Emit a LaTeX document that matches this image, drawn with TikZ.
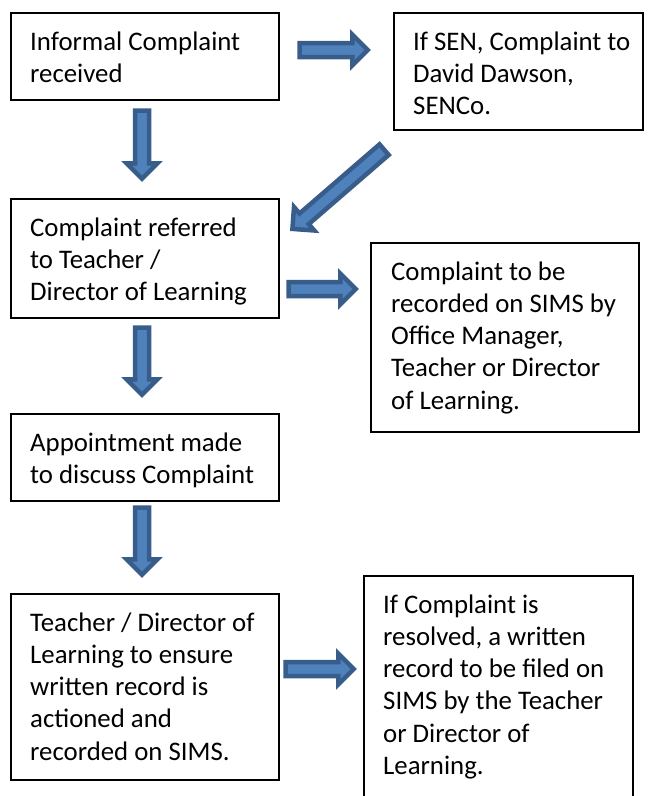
\documentclass[tikz,border=0pt]{standalone}
\usepackage{fontspec}
\setmainfont{Carlito}
\usetikzlibrary{calc}

\definecolor{arrowfill}{HTML}{4F81BD}
\definecolor{arrowline}{HTML}{385D8A}

\tikzset{
  box/.style={draw=black, line width=2pt, rectangle, inner sep=0pt, anchor=north west},
  txt/.style={anchor=north west, inner sep=0pt, align=left,
    font=\fontsize{26.8}{32.25}\selectfont},
  arrowbody/.style={draw=arrowline, fill=arrowfill, line width=4.5pt, line join=miter},
}

% block arrow from coordinate #1 (tail) to coordinate #2 (tip)
\newcommand\blockarrow[2]{%
  \coordinate (ba-t) at ($(#1)!2.5pt!(#2)$);
  \coordinate (ba-p) at ($(#2)!3.2pt!(#1)$);
  \coordinate (ba-h) at ($(ba-p)!15.5pt!(#1)$);
  \draw[arrowbody]
    ($(ba-t)!7pt!90:(#2)$) -- ($(ba-h)!7pt!90:(ba-p)$) --
    ($(ba-h)!15.5pt!90:(ba-p)$) -- (ba-p) --
    ($(ba-h)!15.5pt!-90:(ba-p)$) -- ($(ba-h)!7pt!-90:(ba-p)$) --
    ($(ba-t)!7pt!-90:(#2)$) -- cycle;
}

\begin{document}
\begin{tikzpicture}[x=1pt, y=-1pt]
  \useasboundingbox (0,0) rectangle (655,796);

  % boxes
  \node[box, minimum width=268.5pt, minimum height=87pt]  (b1) at (9.5,12)  {};
  \node[box, minimum width=249pt,   minimum height=117pt] (b2) at (393,12)  {};
  \node[box, minimum width=268.5pt, minimum height=119pt] (b3) at (9.5,198) {};
  \node[box, minimum width=268pt,   minimum height=189pt] (b4) at (370,242) {};
  \node[box, minimum width=268.5pt, minimum height=87pt]  (b5) at (9.5,413) {};
  \node[box, minimum width=268.5pt, minimum height=186pt] (b6) at (9.5,593) {};
  \node[box, minimum width=269pt,   minimum height=240pt] (b7) at (363,575) {};

  % texts
  \node[txt] (t1) at (30,27.4)   {\strut Informal Complaint\\received};
  \node[txt] (t2) at (413,27.4)  {\strut If SEN, Complaint to\\David Dawson,\\SENCo.};
  \node[txt] (t3) at (30,213.4)  {\strut Complaint referred\\to Teacher /\\Director of Learning};
  \node[txt] (t4) at (391,257.4) {\strut Complaint to be\\recorded on SIMS by\\Office Manager,\\Teacher or Director\\of Learning.};
  \node[txt] (t5) at (30,428.4)  {\strut Appointment made\\to discuss Complaint};
  \node[txt] (t6) at (30,608.4)  {\strut Teacher / Director of\\Learning to ensure\\written record is\\actioned and\\recorded on SIMS.};
  \node[txt] (t7) at (383,590.4) {\strut If Complaint is\\resolved, a written\\record to be filed on\\SIMS by the Teacher\\or Director of\\Learning.};

  % arrow ends
  \coordinate (a1s) at (297,50);   \coordinate (a1e) at (371,50);
  \coordinate (a2s) at (142,108);  \coordinate (a2e) at (142,182);
  \coordinate (a3s) at (386,148);  \coordinate (a3e) at (290,231);
  \coordinate (a4s) at (142,325);  \coordinate (a4e) at (142,398);
  \coordinate (a5s) at (286,289);  \coordinate (a5e) at (359,289);
  \coordinate (a6s) at (142,505);  \coordinate (a6e) at (142,578);
  \coordinate (a7s) at (283,669);  \coordinate (a7e) at (357,669);

  \blockarrow{a1s}{a1e}
  \blockarrow{a2s}{a2e}
  \blockarrow{a3s}{a3e}
  \blockarrow{a4s}{a4e}
  \blockarrow{a5s}{a5e}
  \blockarrow{a6s}{a6e}
  \blockarrow{a7s}{a7e}
\end{tikzpicture}
\end{document}
